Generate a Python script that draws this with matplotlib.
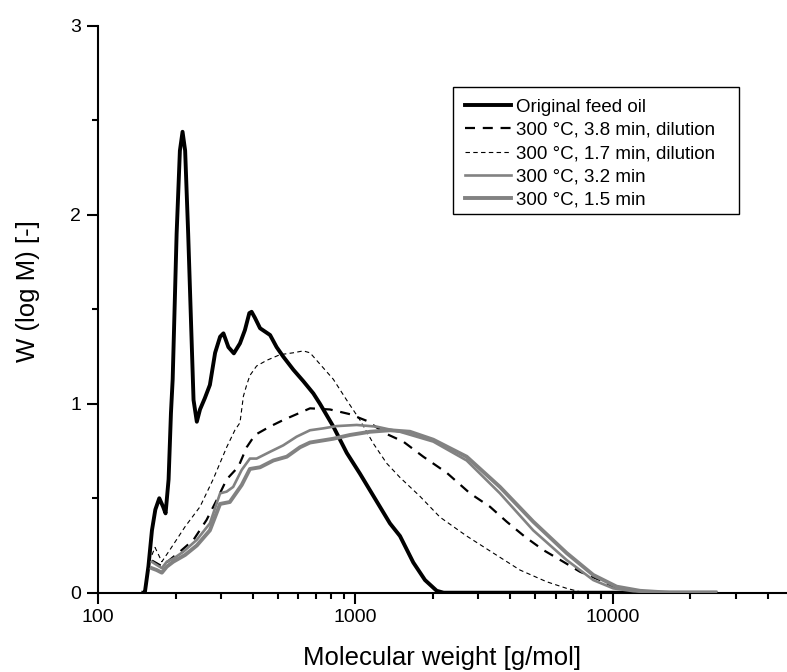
import matplotlib
matplotlib.use("Agg")
import matplotlib.pyplot as plt
from matplotlib.patches import Rectangle
from matplotlib.ticker import FixedLocator, LogLocator, NullFormatter, FuncFormatter

plt.rcParams['font.family'] = ['Liberation Sans', 'DejaVu Sans']

# ---- data ----
labels = ["Original feed oil", "300 °C, 3.8 min, dilution", "300 °C, 1.7 min, dilution",
          "300 °C, 3.2 min", "300 °C, 1.5 min"]

M_feed = [150, 152, 157, 162, 167, 173, 179, 183, 188, 192, 195, 202, 208, 213, 218, 224, 235, 242,
          249, 260, 272, 285, 298, 307, 321, 337, 356, 372, 387, 395, 407, 426, 466, 494, 524, 574,
          627, 686, 728, 820, 925, 1041, 1361, 1489, 1677, 1862, 2068, 2200, 25000]
W_feed = [0, 0, 0.14, 0.33, 0.44, 0.50, 0.455, 0.42, 0.60, 0.95, 1.13, 1.90, 2.34, 2.44, 2.34, 1.90,
          1.02, 0.905, 0.97, 1.03, 1.10, 1.27, 1.355, 1.373, 1.30, 1.267, 1.32, 1.39, 1.48, 1.487,
          1.455, 1.40, 1.364, 1.30, 1.25, 1.18, 1.12, 1.055, 1.0, 0.88, 0.74, 0.63, 0.367, 0.30,
          0.16, 0.067, 0.01, 0, 0]

M_d38 = [162, 169, 177, 208, 235, 264, 289, 316, 351, 378, 407, 466, 524, 591, 666, 796, 952, 1105,
         1322, 1533, 1834, 2261, 2785, 3330, 3866, 4553, 5361, 6412, 7445, 8903, 10028, 11990,
         13500, 25000]
W_d38 = [0.17, 0.156, 0.14, 0.217, 0.28, 0.385, 0.49, 0.60, 0.667, 0.77, 0.835, 0.88, 0.914, 0.945,
         0.976, 0.97, 0.945, 0.91, 0.84, 0.80, 0.72, 0.635, 0.526, 0.455, 0.376, 0.296, 0.226,
         0.164, 0.111, 0.067, 0.032, 0.014, 0, 0]

M_d17 = [162, 166.5, 177, 190, 218, 249, 280, 316, 340, 356, 367, 378, 389, 413, 452, 509, 573, 627,
         666, 728, 820, 924, 1041, 1173, 1322, 1489, 1781, 2129, 2703, 3428, 4354, 5526, 6609,
         7445, 25000]
W_d17 = [0.20, 0.24, 0.164, 0.226, 0.35, 0.455, 0.60, 0.77, 0.86, 0.90, 1.04, 1.10, 1.15, 1.20,
         1.23, 1.26, 1.27, 1.28, 1.27, 1.21, 1.13, 1.02, 0.914, 0.79, 0.685, 0.61, 0.51, 0.40,
         0.30, 0.21, 0.12, 0.058, 0.023, 0.005, 0]

M_g32 = [161.6, 169, 177, 185, 196, 214.5, 242, 272, 298, 316, 335, 361.5, 389, 413, 466, 524, 591,
         666, 750, 845, 1011, 1209, 1489, 2005, 2703, 3640, 4903, 6609, 8385, 10028, 11990, 15000,
         25000]
W_g32 = [0.164, 0.147, 0.13, 0.164, 0.18, 0.217, 0.28, 0.367, 0.526, 0.535, 0.56, 0.65, 0.71, 0.71,
         0.746, 0.78, 0.826, 0.86, 0.87, 0.882, 0.888, 0.879, 0.852, 0.80, 0.70, 0.526, 0.33,
         0.173, 0.067, 0.023, 0.008, 0, 0]

M_g15 = [161.6, 169, 177, 185, 196, 218, 242, 272, 298, 325, 361.5, 389, 426, 480, 541, 609, 666,
         820, 952, 1139, 1361, 1628, 2005, 2703, 3640, 4903, 6609, 8385, 10337, 12734, 16650, 25000]
W_g15 = [0.13, 0.12, 0.106, 0.138, 0.164, 0.20, 0.25, 0.33, 0.47, 0.48, 0.57, 0.655, 0.664, 0.70,
         0.72, 0.77, 0.795, 0.815, 0.835, 0.852, 0.86, 0.852, 0.81, 0.72, 0.56, 0.376, 0.21,
         0.094, 0.032, 0.01, 0, 0]

x_major = [100, 1000, 10000]
x_major_labels = ["100", "1000", "10000"]
y_major = [0, 1, 2, 3]

# ---- figure ----
W_px, H_px = 787, 672
fig = plt.figure(figsize=(W_px / 100, H_px / 100), dpi=100)
ax_l, ax_r, ax_t, ax_b = 98, W_px, 26, 592.7
ax = fig.add_axes([ax_l / W_px, (H_px - ax_b) / H_px, (ax_r - ax_l) / W_px, (ax_b - ax_t) / H_px])

gray = '#828282'
ax.plot(M_feed, W_feed, color='black', lw=2.8, label=labels[0], zorder=3)
ax.plot(M_d38, W_d38, color='black', lw=1.6, dashes=(4.5, 3.5), label=labels[1], zorder=3)
ax.plot(M_d17, W_d17, color='black', lw=0.8, dashes=(4, 3), label=labels[2], zorder=3)
ax.plot(M_g32, W_g32, color=gray, lw=1.9, label=labels[3], zorder=3)
ax.plot(M_g15, W_g15, color=gray, lw=2.8, label=labels[4], zorder=3)

ax.set_xscale('log')
ax.set_xlim(100, 10 ** 4.676)
ax.set_ylim(0, 3)

ax.xaxis.set_major_locator(FixedLocator(x_major))
ax.xaxis.set_major_formatter(FuncFormatter(lambda v, p: x_major_labels[x_major.index(int(round(v)))]
                                           if int(round(v)) in x_major else ""))
ax.xaxis.set_minor_locator(LogLocator(base=10, subs=range(2, 10)))
ax.xaxis.set_minor_formatter(NullFormatter())
ax.yaxis.set_major_locator(FixedLocator(y_major))
ax.yaxis.set_minor_locator(FixedLocator([0.5, 1.5, 2.5]))

for s in ['top', 'right']:
    ax.spines[s].set_visible(False)
for s in ['left', 'bottom']:
    ax.spines[s].set_linewidth(1.5)

ax.tick_params(which='major', direction='out', length=8, width=1.5, labelsize=14, pad=4)
ax.tick_params(which='minor', direction='out', length=4, width=1.5)

ax.set_xlabel("Molecular weight [g/mol]", fontsize=18.5, labelpad=14)
ax.set_ylabel("W (log M) [-]", fontsize=18.5)
ax.yaxis.set_label_coords((40 - ax_l) / (ax_r - ax_l), (ax_b - 291) / (ax_b - ax_t))

# ---- legend: frameless, calibrated so rows sit at the measured positions ----
fs = 13.5
fs_px = fs * 100 / 72
row_target = 23.3          # px between rows
first_center = 107.0       # px from top
handle_x = 465.0           # px


def make_legend(ls, top_px):
    return ax.legend(loc='upper left', bbox_to_anchor=(handle_x / W_px, 1 - top_px / H_px),
                     bbox_transform=fig.transFigure, fontsize=fs, frameon=False,
                     borderaxespad=0, borderpad=0, labelspacing=ls,
                     handlelength=2.45, handletextpad=0.27)


ls = 0.1
top = 96.0
leg = make_legend(ls, top)
for _ in range(2):
    fig.canvas.draw()
    r = fig.canvas.get_renderer()
    ext = [t.get_window_extent(r) for t in leg.get_texts()]
    spacing = (ext[0].y0 - ext[-1].y0) / (len(ext) - 1)
    ls = ls + (row_target - spacing) / fs_px
    c0 = H_px - (ext[0].y0 + ext[0].y1) / 2
    top = top + (first_center - c0)
    leg.remove()
    leg = make_legend(ls, top)

fig.add_artist(Rectangle((453 / W_px, 1 - 214 / H_px), (739 - 453) / W_px, (214 - 87) / H_px,
                         transform=fig.transFigure, fill=True, facecolor='white',
                         edgecolor='black', lw=1.0, zorder=4))
leg.set_zorder(5)
fig.add_artist(leg)

fig.savefig("out.png", dpi=100)
